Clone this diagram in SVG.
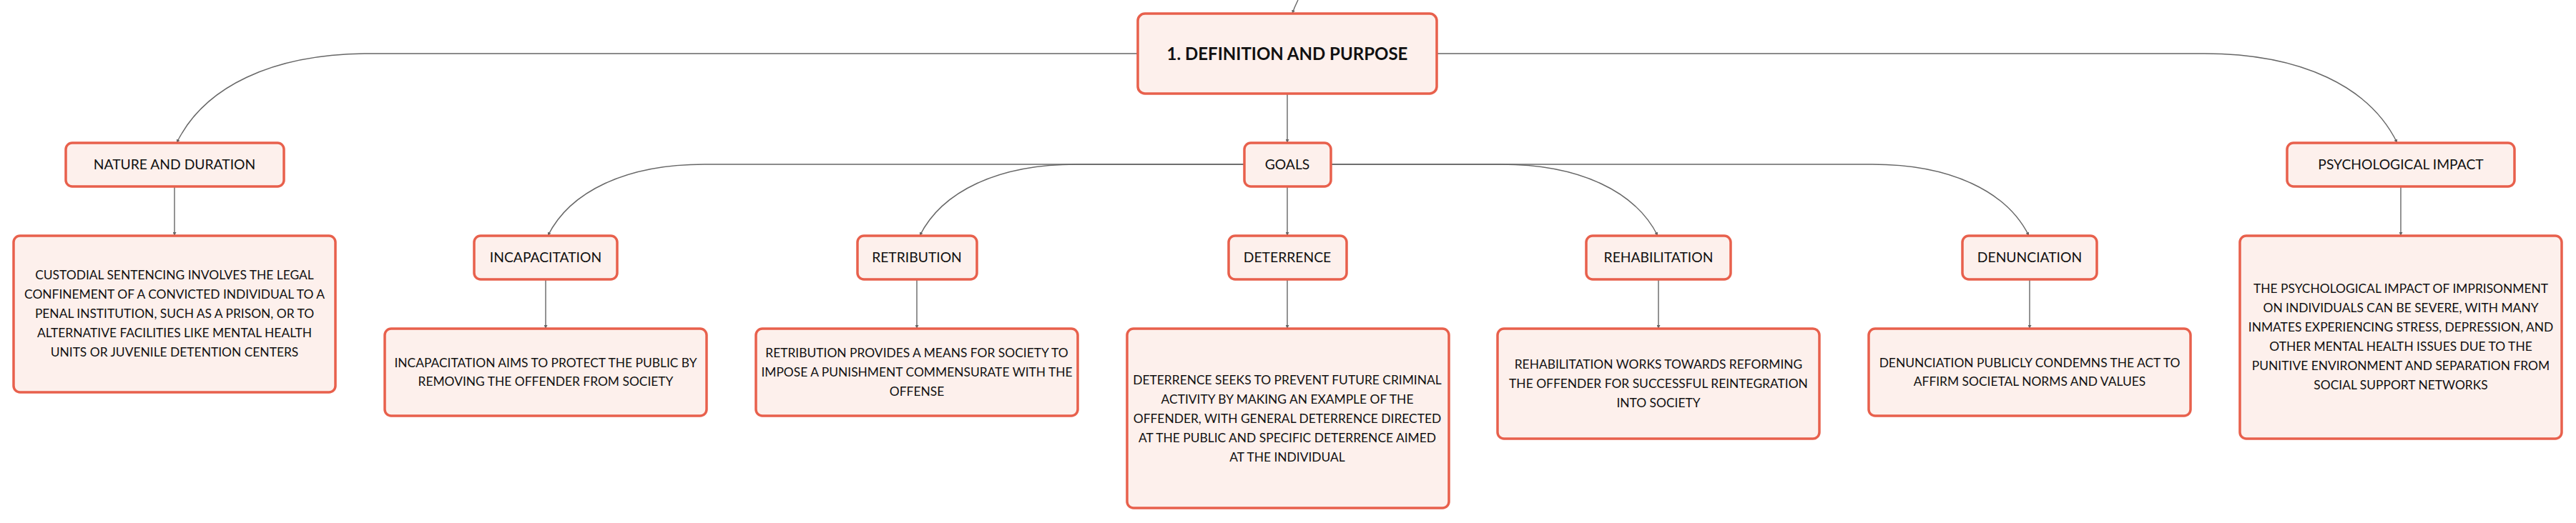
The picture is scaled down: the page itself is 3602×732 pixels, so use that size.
<svg xmlns="http://www.w3.org/2000/svg" width="3602" height="732" viewBox="0 0 3602 732">
<defs>
<marker id="arr" viewBox="0 0 6 6" refX="6" refY="3" markerWidth="5" markerHeight="5" markerUnits="userSpaceOnUse" orient="auto">
<path d="M0,0 L6,3 L0,6 z" fill="#666"/>
</marker>
<style>
.box{fill:#fdf0ec;stroke:#e8604c;stroke-width:3.5}
.t{font-family:Lato,"Liberation Sans",sans-serif;fill:#111;text-anchor:middle}
.title{font-size:19.3px}
.desc{font-size:17.4px}
.root{font-size:24px;font-weight:bold}
.c{fill:none;stroke:#666;stroke-width:1.4}
.a{marker-end:url(#arr)}
</style>
</defs>
<rect width="3602" height="732" fill="#fff"/>
<g id="connectors">
<path class="c a" d="M1815 0 Q1810 10 1807 19"/>
<path class="c a" d="M1800 131 L1800 200"/>
<path class="c a" d="M1591 75 L517 75 C380 75 285 122 247 200"/>
<path class="c a" d="M2009 75 L3082 75 C3219 75 3314 122 3352 200"/>
<path class="c a" d="M244 261 L244 330"/>
<path class="c a" d="M3357 261 L3357 330"/>
<path class="c a" d="M1740 230 L985 230 C875 230 797 268 766 330"/>
<path class="c a" d="M1740 230 L1505 230 C1395 230 1317 268 1286 330"/>
<path class="c a" d="M1800 261 L1800 330"/>
<path class="c a" d="M1861 230 L2099 230 C2209 230 2287 268 2318 330"/>
<path class="c a" d="M1861 230 L2618 230 C2728 230 2806 268 2837 330"/>
<path class="c a" d="M763 391 L763 460"/>
<path class="c a" d="M1282 391 L1282 460"/>
<path class="c a" d="M1800 391 L1800 460"/>
<path class="c a" d="M2319 391 L2319 460"/>
<path class="c a" d="M2838 391 L2838 460"/>
</g>
<g id="root">
<rect class="box" x="1591" y="19" width="418" height="112" rx="10"/>
<text class="t root" x="1800" y="84">1. DEFINITION AND PURPOSE</text>
</g>
<g id="nature">
<rect class="box" x="92" y="200" width="305" height="61" rx="9"/>
<text class="t title" x="244" y="237">NATURE AND DURATION</text>
</g>
<g id="nature-desc">
<rect class="box" x="19" y="330" width="450" height="219" rx="9"/>
<text class="t desc" x="244" y="391">CUSTODIAL SENTENCING INVOLVES THE LEGAL</text>
<text class="t desc" x="244" y="418">CONFINEMENT OF A CONVICTED INDIVIDUAL TO A</text>
<text class="t desc" x="244" y="445">PENAL INSTITUTION, SUCH AS A PRISON, OR TO</text>
<text class="t desc" x="244" y="472">ALTERNATIVE FACILITIES LIKE MENTAL HEALTH</text>
<text class="t desc" x="244" y="499">UNITS OR JUVENILE DETENTION CENTERS</text>
</g>
<g id="goals">
<rect class="box" x="1740" y="200" width="121" height="61" rx="9"/>
<text class="t title" x="1800" y="237">GOALS</text>
</g>
<g id="psych">
<rect class="box" x="3198" y="200" width="318" height="61" rx="9"/>
<text class="t title" x="3357" y="237">PSYCHOLOGICAL IMPACT</text>
</g>
<g id="psych-desc">
<rect class="box" x="3132" y="330" width="450" height="284" rx="9"/>
<text class="t desc" x="3357" y="410">THE PSYCHOLOGICAL IMPACT OF IMPRISONMENT</text>
<text class="t desc" x="3357" y="437">ON INDIVIDUALS CAN BE SEVERE, WITH MANY</text>
<text class="t desc" x="3357" y="464">INMATES EXPERIENCING STRESS, DEPRESSION, AND</text>
<text class="t desc" x="3357" y="491">OTHER MENTAL HEALTH ISSUES DUE TO THE</text>
<text class="t desc" x="3357" y="518">PUNITIVE ENVIRONMENT AND SEPARATION FROM</text>
<text class="t desc" x="3357" y="545">SOCIAL SUPPORT NETWORKS</text>
</g>
<g id="incapacitation">
<rect class="box" x="663" y="330" width="200" height="61" rx="9"/>
<text class="t title" x="763" y="367">INCAPACITATION</text>
</g>
<g id="incapacitation-desc">
<rect class="box" x="538" y="460" width="450" height="122" rx="9"/>
<text class="t desc" x="763" y="514">INCAPACITATION AIMS TO PROTECT THE PUBLIC BY</text>
<text class="t desc" x="763" y="540">REMOVING THE OFFENDER FROM SOCIETY</text>
</g>
<g id="retribution">
<rect class="box" x="1199" y="330" width="167" height="61" rx="9"/>
<text class="t title" x="1282" y="367">RETRIBUTION</text>
</g>
<g id="retribution-desc">
<rect class="box" x="1057" y="460" width="450" height="122" rx="9"/>
<text class="t desc" x="1282" y="500">RETRIBUTION PROVIDES A MEANS FOR SOCIETY TO</text>
<text class="t desc" x="1282" y="527">IMPOSE A PUNISHMENT COMMENSURATE WITH THE</text>
<text class="t desc" x="1282" y="554">OFFENSE</text>
</g>
<g id="deterrence">
<rect class="box" x="1718" y="330" width="165" height="61" rx="9"/>
<text class="t title" x="1800" y="367">DETERRENCE</text>
</g>
<g id="deterrence-desc">
<rect class="box" x="1576" y="460" width="450" height="251" rx="9"/>
<text class="t desc" x="1800" y="538">DETERRENCE SEEKS TO PREVENT FUTURE CRIMINAL</text>
<text class="t desc" x="1800" y="565">ACTIVITY BY MAKING AN EXAMPLE OF THE</text>
<text class="t desc" x="1800" y="592">OFFENDER, WITH GENERAL DETERRENCE DIRECTED</text>
<text class="t desc" x="1800" y="619">AT THE PUBLIC AND SPECIFIC DETERRENCE AIMED</text>
<text class="t desc" x="1800" y="646">AT THE INDIVIDUAL</text>
</g>
<g id="rehabilitation">
<rect class="box" x="2218" y="330" width="202" height="61" rx="9"/>
<text class="t title" x="2319" y="367">REHABILITATION</text>
</g>
<g id="rehabilitation-desc">
<rect class="box" x="2094" y="460" width="450" height="154" rx="9"/>
<text class="t desc" x="2319" y="516">REHABILITATION WORKS TOWARDS REFORMING</text>
<text class="t desc" x="2319" y="543">THE OFFENDER FOR SUCCESSFUL REINTEGRATION</text>
<text class="t desc" x="2319" y="570">INTO SOCIETY</text>
</g>
<g id="denunciation">
<rect class="box" x="2744" y="330" width="188" height="61" rx="9"/>
<text class="t title" x="2838" y="367">DENUNCIATION</text>
</g>
<g id="denunciation-desc">
<rect class="box" x="2613" y="460" width="450" height="122" rx="9"/>
<text class="t desc" x="2838" y="514">DENUNCIATION PUBLICLY CONDEMNS THE ACT TO</text>
<text class="t desc" x="2838" y="540">AFFIRM SOCIETAL NORMS AND VALUES</text>
</g>
</svg>
